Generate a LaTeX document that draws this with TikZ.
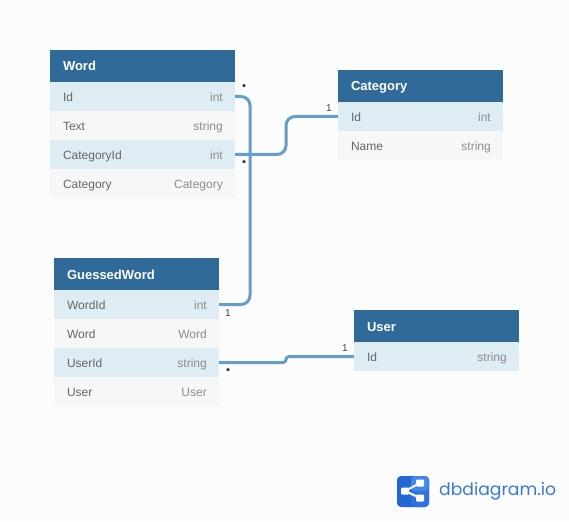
\documentclass[tikz,border=0pt]{standalone}
\usepackage{fontspec}
\setmainfont{Liberation Sans}
\newfontfamily\logofont{Poppins}
\usetikzlibrary{positioning}
\definecolor{headblue}{HTML}{2F6A99}
\definecolor{rowblue}{HTML}{DEECF4}
\definecolor{rowgray}{HTML}{F7F7F7}
\definecolor{linkblue}{HTML}{659DCD}
\definecolor{pagegray}{HTML}{FCFCFC}
\definecolor{logoblue}{HTML}{2566D6}
\definecolor{logomid}{HTML}{2F72DE}
\definecolor{logolight}{HTML}{4288EA}
\definecolor{logotext}{HTML}{3B78D6}
\tikzset{
  tblhead/.style={fill=headblue, text=white, minimum width=165pt, minimum height=32pt, outer sep=0pt,
    inner xsep=13pt, inner ysep=0pt, text width=139pt, text height=11pt, text depth=1pt, align=left,
    font=\fontsize{13}{13}\selectfont\bfseries},
  rowa/.style={fill=rowblue, text=black!60, minimum width=165pt, minimum height=29pt, outer sep=0pt,
    inner xsep=13pt, inner ysep=0pt, text width=139pt, text height=11pt, text depth=1pt, align=left,
    font=\fontsize{12}{12}\selectfont},
  rowb/.style={rowa, fill=rowgray},
  widetbl/.style={minimum width=185pt, text width=159pt},
  typetext/.style={anchor=east, xshift=-12pt, text=black!45, inner sep=0pt, text height=11pt, text depth=1pt,
    font=\fontsize{12}{12}\selectfont},
  card/.style={inner sep=0pt, text=black!75, font=\fontsize{10}{10}\selectfont},
  many/.style={inner sep=0pt, text=black, font=\fontsize{9}{9}\selectfont\bfseries},
  rel/.style={draw=linkblue, line width=3pt},
}
\begin{document}
\begin{tikzpicture}[x=1pt, y=-1pt]

  % Page
  \fill[pagegray] (0,0) rectangle (569,521);
  \useasboundingbox (0,0) rectangle (569,521);

  % Word
  \node[tblhead, widetbl, anchor=north west] (word) at (50,50) {Word};
  \node[rowa, widetbl, below=0pt of word] (wordid) {Id};
  \node[rowb, widetbl, below=0pt of wordid] (wordtext) {Text};
  \node[rowa, widetbl, below=0pt of wordtext] (wordcatid) {CategoryId};
  \node[rowb, widetbl, below=0pt of wordcatid] (wordcat) {Category};
  \node[typetext] (wordidt) at (wordid.east) {int};
  \node[typetext] (wordtextt) at (wordtext.east) {string};
  \node[typetext] (wordcatidt) at (wordcatid.east) {int};
  \node[typetext] (wordcatt) at (wordcat.east) {Category};

  % Category
  \node[tblhead, anchor=north west] (category) at (338,70) {Category};
  \node[rowa, below=0pt of category] (catid) {Id};
  \node[rowb, below=0pt of catid] (catname) {Name};
  \node[typetext] (catidt) at (catid.east) {int};
  \node[typetext] (catnamet) at (catname.east) {string};

  % GuessedWord
  \node[tblhead, anchor=north west] (guessed) at (54,258) {GuessedWord};
  \node[rowa, below=0pt of guessed] (gwordid) {WordId};
  \node[rowb, below=0pt of gwordid] (gword) {Word};
  \node[rowa, below=0pt of gword] (guserid) {UserId};
  \node[rowb, below=0pt of guserid] (guser) {User};
  \node[typetext] (gwordidt) at (gwordid.east) {int};
  \node[typetext] (gwordt) at (gword.east) {Word};
  \node[typetext] (guseridt) at (guserid.east) {string};
  \node[typetext] (gusert) at (guser.east) {User};

  % User
  \node[tblhead, anchor=north west] (user) at (354,310) {User};
  \node[rowa, below=0pt of user] (userid) {Id};
  \node[typetext] (useridt) at (userid.east) {string};

  % Relations
  \coordinate (bendcat) at (286,0 |- catid.west);
  \coordinate (benduser) at (286,0 |- userid.west);
  \draw[rel, rounded corners=9pt] (wordid.east) -| ([xshift=31pt]gwordid.east) -- (gwordid.east);
  \draw[rel, rounded corners=9pt] (wordcatid.east) -| (bendcat) -- (catid.west);
  \draw[rel, rounded corners=3pt] (guserid.east) -| (benduser) -- (userid.west);

  % Cardinality marks
  \node[many] (mark1) at (244,87) {*};
  \node[many] (mark2) at (244,163) {*};
  \node[many] (mark3) at (228,371) {*};
  \node[card] (one1) at (329,108) {1};
  \node[card] (one2) at (228,313) {1};
  \node[card] (one3) at (345,348) {1};

  % Logo
  \fill[logoblue, rounded corners=4pt] (397,476) rectangle (429,507);
  \fill[logomid, rounded corners=4pt] (411,476) -- (429,476) -- (429,507) -- (411,507) -- cycle;
  \fill[logolight, rounded corners=4pt] (411,476) -- (429,476) -- (429,491) -- (411,491) -- cycle;
  \draw[white, line width=2pt] (420,483) -- (405,491) -- (420,498);
  \fill[white, rounded corners=1pt] (401,487.5) rectangle (409,494.5);
  \fill[white, rounded corners=1pt] (416,479.5) rectangle (424,486.5);
  \fill[white, rounded corners=1pt] (416,494.5) rectangle (424,501.5);
  \node[inner sep=0pt, anchor=west, text=logotext, font=\fontsize{17.2}{17.2}\logofont] (logotitle) at (439,491) {dbdiagram.io};

\end{tikzpicture}
\end{document}
